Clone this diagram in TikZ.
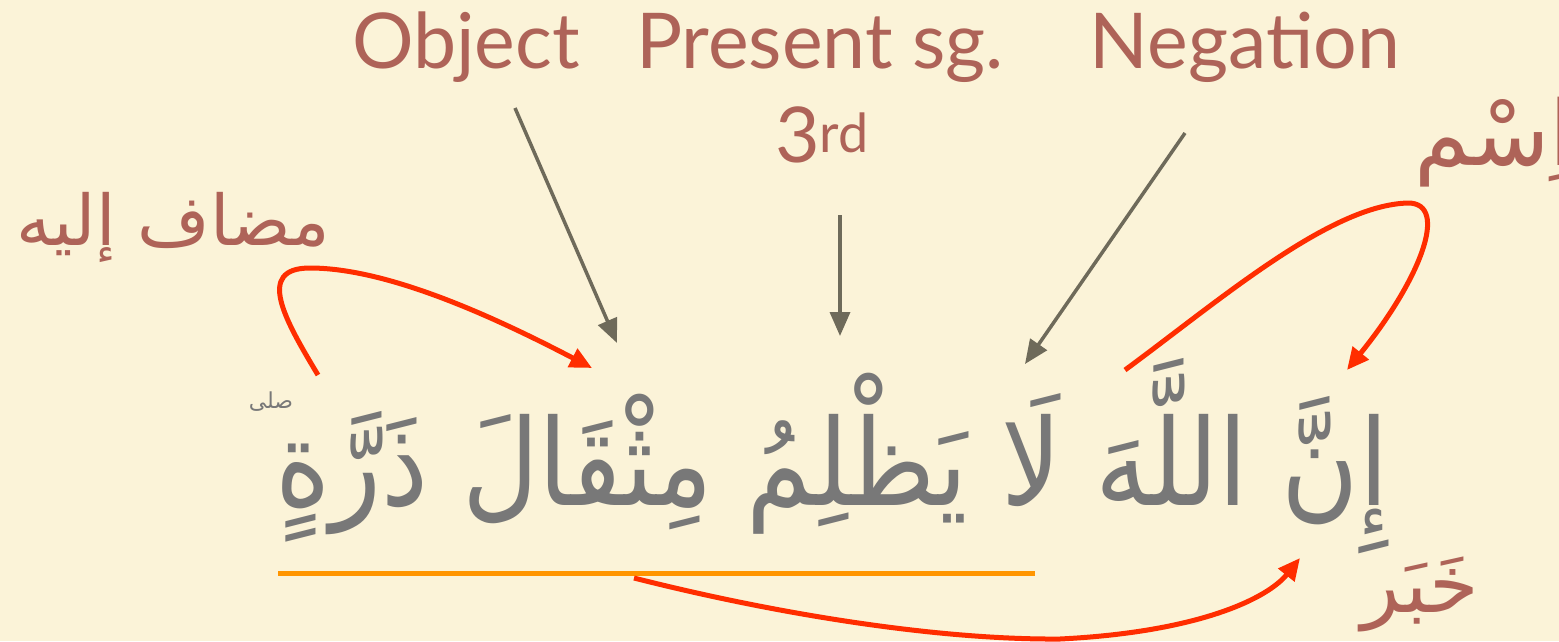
\documentclass[tikz,border=0pt]{standalone}
\usepackage{fontspec}
\setmainfont{Lato}
\newfontfamily\arabicfont[Script=Arabic]{DejaVu Sans}
\TeXXeTstate=1
\usetikzlibrary{arrows.meta}
\definecolor{bgc}{HTML}{FBF3D8}
\definecolor{textc}{HTML}{AE6358}
\definecolor{ayahc}{HTML}{787878}
\definecolor{grayarr}{HTML}{6E6A5A}
\definecolor{redarr}{HTML}{FF2D00}
\definecolor{orangec}{HTML}{FF9500}
\begin{document}
\begin{tikzpicture}[x=1pt,y=-1pt,
  lab/.style={text=textc, inner sep=0pt, font=\fontsize{77}{90}\selectfont},
  arlab/.style={text=textc, inner sep=0pt},
  grayarrow/.style={draw=grayarr, line width=3.5pt, -{Triangle[length=24pt,width=20pt]}},
  redarrow/.style={draw=redarr, line width=5pt, -{Triangle[length=22pt,width=20pt]}},
]
\fill[bgc] (0,0) rectangle (1559,641);
\useasboundingbox (0,0) rectangle (1559,641);

% English labels
\node[lab, anchor=base] (obj) at (466,68) {Object};
\node[lab, anchor=base] (pres) at (820,68) {Present sg.};
\node[lab, anchor=base] (neg) at (1245,68) {Negation};
\node[lab, anchor=base] (third) at (822,162) {3\textsuperscript{rd}};

% Arabic labels
\node[arlab, anchor=base west, font=\fontsize{90}{100}\arabicfont] (ism) at (1414,165) {\beginR اِسْم\endR};
\node[arlab, anchor=base, font=\fontsize{70}{80}\arabicfont] (mudaf) at (173,245) {\beginR مضاف إليه\endR};
\node[arlab, anchor=base, font=\fontsize{80}{90}\arabicfont] (khabar) at (1420,612) {\beginR خَبَر\endR};

% Main verse
\node[text=ayahc, inner sep=0pt, anchor=base, font=\fontsize{120}{140}\arabicfont] (ayah) at (832,505) {\scalebox{0.88}[1]{\beginR إِنَّ اللَّهَ لَا يَظْلِمُ مِثْقَالَ ذَرَّةٍ\endR}};
\node[text=ayahc, inner sep=0pt, anchor=base, font=\fontsize{22}{26}\arabicfont] (sala) at (271,408) {\beginR صلى\endR};

% underline
\coordinate (ulA) at (278,573);
\coordinate (ulB) at (1035,573);
\draw[orangec, line width=5pt] (ulA) -- (ulB);

% gray arrows
\coordinate (objS) at (515,108);
\coordinate (objT) at (617,343);
\coordinate (presS) at (840,215);
\coordinate (presT) at (840,336);
\coordinate (negS) at (1185,133);
\coordinate (negT) at (1025,364);
\draw[grayarrow] (objS) -- (objT);
\draw[grayarrow] (presS) -- (presT);
\draw[grayarrow] (negS) -- (negT);

% red arrows
\coordinate (mS) at (318,375);
\coordinate (mT) at (592,368);
\draw[redarrow] (mS) .. controls (285,320) and (255,268) .. (310,268)
  .. controls (390,268) and (500,320) .. (mT);
\coordinate (iS) at (1125,370);
\coordinate (iT) at (1347,370);
\draw[redarrow] (iS) .. controls (1220,300) and (1330,205) .. (1408,203)
  .. controls (1450,203) and (1420,280) .. (iT);
\coordinate (kS) at (634,578);
\coordinate (kT) at (1300,558);
\draw[redarrow] (kS) .. controls (780,615) and (940,640) .. (1060,639)
  .. controls (1200,632) and (1268,598) .. (kT);
\end{tikzpicture}
\end{document}
